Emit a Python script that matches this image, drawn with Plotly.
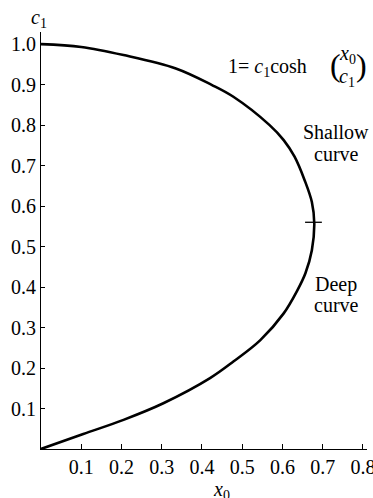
import plotly.graph_objects as go

# Curve points (x0, c1), traced from deep end to shallow end
x0_vals = [0.0, 0.105, 0.205, 0.304, 0.42, 0.478, 0.545, 0.603, 0.636, 0.657,
           0.673, 0.679, 0.673, 0.655, 0.63, 0.603, 0.568, 0.478, 0.425, 0.335,
           0.205, 0.1, 0.0]
c1_vals = [0.0, 0.037, 0.072, 0.113, 0.175, 0.216, 0.269, 0.335, 0.39, 0.434,
           0.491, 0.557, 0.61, 0.664, 0.722, 0.763, 0.80, 0.87, 0.899, 0.94,
           0.973, 0.993, 1.0]

max_point_x = [0.677]
max_point_y = [0.56]

x_ticks = [0.1, 0.2, 0.3, 0.4, 0.5, 0.6, 0.7, 0.8]
x_tick_text = ["0.1", "0.2", "0.3", "0.4", "0.5", "0.6", "0.7", "0.8"]
y_ticks = [0.1, 0.2, 0.3, 0.4, 0.5, 0.6, 0.7, 0.8, 0.9, 1.0]
y_tick_text = ["0.1", "0.2", "0.3", "0.4", "0.5", "0.6", "0.7", "0.8", "0.9", "1.0"]

FONT = "Liberation Serif"
FS = 20

fig = go.Figure()
fig.add_trace(go.Scatter(x=x0_vals, y=c1_vals, mode="lines",
                         line=dict(color="black", width=2.6, shape="spline", smoothing=1.0),
                         hoverinfo="skip", showlegend=False, cliponaxis=False))
fig.add_trace(go.Scatter(x=max_point_x, y=max_point_y, mode="markers",
                         marker=dict(symbol="line-ew", size=12,
                                     line=dict(color="black", width=1.3)),
                         hoverinfo="skip", showlegend=False))

fig.update_layout(
    width=373, height=498,
    margin=dict(l=41, r=6, t=32, b=49, autoexpand=False),
    paper_bgcolor="white", plot_bgcolor="white",
    font=dict(family=FONT, size=FS, color="black"),
    showlegend=False,
    xaxis=dict(range=[0, 0.81], tickvals=x_ticks, ticktext=x_tick_text,
               ticks="inside", ticklen=5, tickwidth=1, tickcolor="black",
               showline=True, linecolor="black", linewidth=1, automargin=False,
               showgrid=False, zeroline=False, ticklabeloverflow="allow",
               tickfont=dict(family=FONT, size=FS)),
    yaxis=dict(range=[0, 1.03], tickvals=y_ticks, ticktext=y_tick_text,
               ticks="inside", ticklen=4, tickwidth=1, tickcolor="black",
               showline=True, linecolor="black", linewidth=1, automargin=False,
               showgrid=False, zeroline=False, ticklabeloverflow="allow",
               tickfont=dict(family=FONT, size=FS)),
)

ann = []
def add(text, x, y, size=FS, xanchor="center", yanchor="middle"):
    ann.append(dict(text=text, x=x, y=y, xref="paper", yref="paper",
                    showarrow=False, xanchor=xanchor, yanchor=yanchor,
                    font=dict(family=FONT, size=size, color="black")))

# paper coords helpers (pixel -> paper)
PW, PH = 373 - 41 - 6, 498 - 32 - 49
def px(xp):
    return (xp - 41) / PW
def py(yp):
    return (449 - yp) / PH

add("<i>c</i><sub>1</sub>", px(39), py(19))
add("<i>x</i><sub>0</sub>", px(221), py(490))
add("Shallow", px(336), py(132))
add("curve", px(336), py(154))
add("Deep", px(336), py(284))
add("curve", px(336), py(305))
add("1= <i>c</i><sub>1</sub>cosh", px(309), py(67), xanchor="right")
add("<i>x</i><sub>0</sub>", px(347), py(54))
add("<i>c</i><sub>1</sub>", px(347), py(77))
add("(", px(335), py(65), size=32)
add(")", px(361), py(65), size=32)
fig.update_layout(annotations=ann)

fig.write_html(
    "out.html",
    config={"displayModeBar": False},
    post_script="document.body.style.margin='0';document.body.style.overflow='hidden';",
)
